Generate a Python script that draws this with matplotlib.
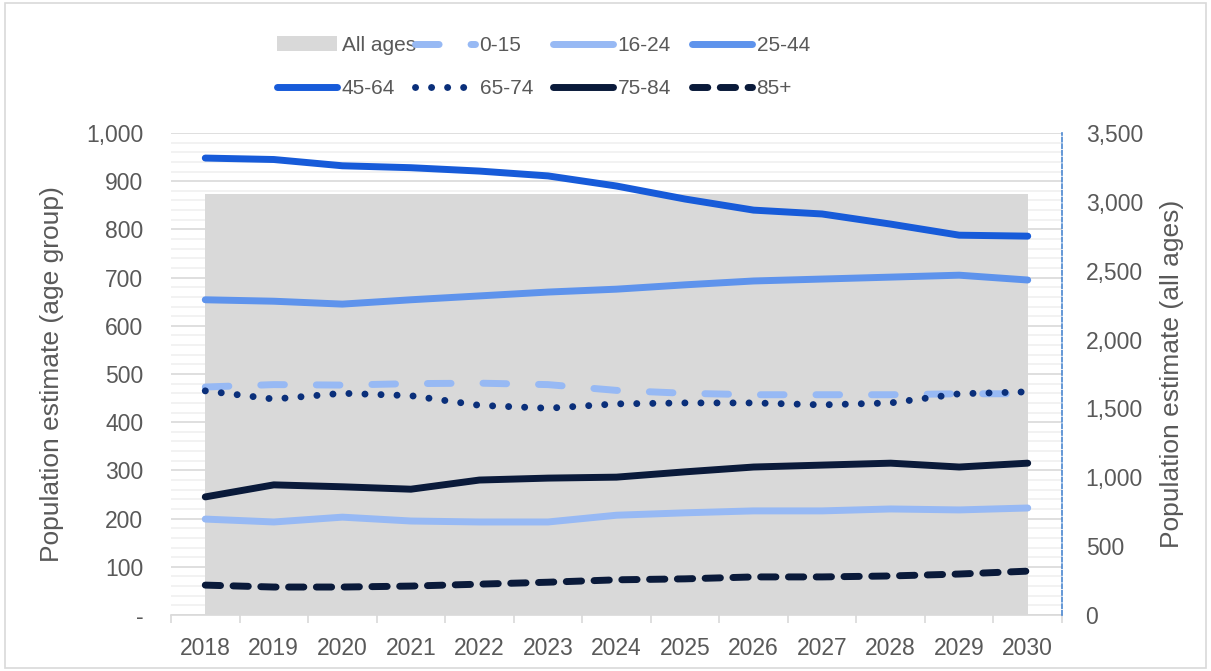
import matplotlib.pyplot as plt
import matplotlib.ticker as mticker
from matplotlib.patches import Rectangle, Patch

# data
years = ['2018', '2019', '2020', '2021', '2022', '2023', '2024',
         '2025', '2026', '2027', '2028', '2029', '2030']
all_ages = [3057, 3057, 3057, 3057, 3057, 3057, 3057,
            3057, 3057, 3057, 3057, 3057, 3057]
age_0_15 = [473, 478, 477, 480, 481, 478, 466, 460, 457, 457, 457, 459, 459]
age_16_24 = [199, 193, 203, 195, 193, 193, 207, 212, 216, 216, 220, 218, 222]
age_25_44 = [654, 651, 645, 654, 662, 670, 676, 685, 693, 697, 701, 705, 695]
age_45_64 = [948, 945, 932, 928, 921, 911, 890, 863, 840, 832, 811, 788, 786]
age_65_74 = [465, 448, 460, 455, 435, 429, 438, 440, 440, 436, 440, 459, 463]
age_75_84 = [245, 270, 266, 261, 280, 284, 286, 297, 307, 311, 315, 307, 315]
age_85 = [62, 58, 58, 60, 64, 68, 73, 75, 79, 79, 81, 85, 91]

grey_txt = '#595959'
plt.rcParams['font.family'] = ['Liberation Sans', 'DejaVu Sans']

fig = plt.figure(figsize=(12.11, 6.71), dpi=100)
pos = [171 / 1211, 1 - 615 / 671, (1062 - 171) / 1211, (615 - 133) / 671]
x = list(range(len(years)))

# back axes: grid + left scale
ax1 = fig.add_axes(pos)
ax1.set_zorder(0)
ax1.set_xlim(-0.5, len(years) - 0.5)
ax1.set_ylim(0, 1000)
ax1.yaxis.set_major_locator(mticker.MultipleLocator(100))
ax1.yaxis.set_minor_locator(mticker.MultipleLocator(20))
ax1.yaxis.set_major_formatter(
    mticker.FuncFormatter(lambda v, p: '-' if v == 0 else f'{v:,.0f}'))
ax1.grid(axis='y', which='major', color='#d9d9d9', lw=1.2)
ax1.grid(axis='y', which='minor', color='#f0f0f0', lw=1.2)
ax1.set_axisbelow(True)
ax1.tick_params(axis='y', which='both', length=0, labelsize=16.5,
                labelcolor=grey_txt, pad=20)
ax1.set_xticks(x)
ax1.set_xticklabels(years, family=['Liberation Sans Narrow', 'Liberation Sans'])
ax1.xaxis.set_minor_locator(mticker.FixedLocator([i - 0.5 for i in range(len(years) + 1)]))
ax1.tick_params(axis='x', which='major', length=0, labelsize=16.5,
                labelcolor=grey_txt, pad=16)
ax1.tick_params(axis='x', which='minor', length=6, color='#d9d9d9', width=1.2)
for s in ['top', 'right', 'left']:
    ax1.spines[s].set_visible(False)
ax1.spines['bottom'].set_color('#d9d9d9')
ax1.spines['bottom'].set_linewidth(1.2)
ax1.set_ylabel('Population estimate (age group)', fontsize=19,
               color=grey_txt, labelpad=16)

# middle axes: all ages area on right scale
ax2 = ax1.twinx()
ax2.set_zorder(1)
ax2.patch.set_visible(False)
ax2.set_ylim(0, 3500)
ax2.yaxis.set_major_locator(mticker.MultipleLocator(500))
ax2.yaxis.set_major_formatter(mticker.FuncFormatter(lambda v, p: f'{v:,.0f}'))
ax2.tick_params(axis='y', length=0, labelsize=16.5, labelcolor=grey_txt, pad=17)
ax2.fill_between(x, all_ages, 0, color='#d9d9d9', lw=0)
for s in ['top', 'left', 'bottom']:
    ax2.spines[s].set_visible(False)
ax2.spines['right'].set_color('#4a86d0')
ax2.spines['right'].set_linestyle((0, (2.5, 1.5)))
ax2.spines['right'].set_linewidth(1.2)
ax2.set_ylabel('Population estimate (all ages)', fontsize=19,
               color=grey_txt, labelpad=12)

# front axes: age group lines on left scale
ax3 = fig.add_axes(pos, sharex=ax1, sharey=ax1)
ax3.set_zorder(2)
ax3.patch.set_visible(False)
ax3.axis('off')

lw = 5
style = dict(lw=lw, solid_capstyle='round', dash_capstyle='round')
l0, = ax3.plot(x, age_0_15, color='#97b9f4', ls=(0, (3.4, 4.6)), **style)
l1, = ax3.plot(x, age_16_24, color='#97b9f4', **style)
l2, = ax3.plot(x, age_25_44, color='#5e93ec', **style)
l3, = ax3.plot(x, age_45_64, color='#175bd9', **style)
l4, = ax3.plot(x, age_65_74, color='#0a2f7a', ls=(0, (0.01, 2.3)), **style)
l5, = ax3.plot(x, age_75_84, color='#0a1a3a', **style)
l6, = ax3.plot(x, age_85, color='#0a1a3a', ls=(0, (2.2, 1.8)), **style)

# legend: four columns of two entries, placed like the reference
area_h = Patch(facecolor='#d9d9d9', edgecolor='none')
cols = [([area_h, l3], ['All ages', '45-64'], 277),
        ([l0, l4], ['0-15', '65-74'], 415),
        ([l1, l5], ['16-24', '75-84'], 553),
        ([l2, l6], ['25-44', '85+'], 692)]
for hs, labs, px in cols:
    fig.legend(hs, labs, loc='upper left', bbox_to_anchor=(px / 1211, 1 - 36 / 671),
               frameon=False, fontsize=15, handlelength=2.9, handletextpad=0.2,
               labelspacing=1.15, borderpad=0, borderaxespad=0,
               labelcolor=grey_txt)

fig.patches.append(Rectangle((0.004, 0.004), 0.992, 0.992, transform=fig.transFigure,
                             fill=False, edgecolor='#d9d9d9', lw=1.2))

plt.savefig('out.png', dpi=100)
